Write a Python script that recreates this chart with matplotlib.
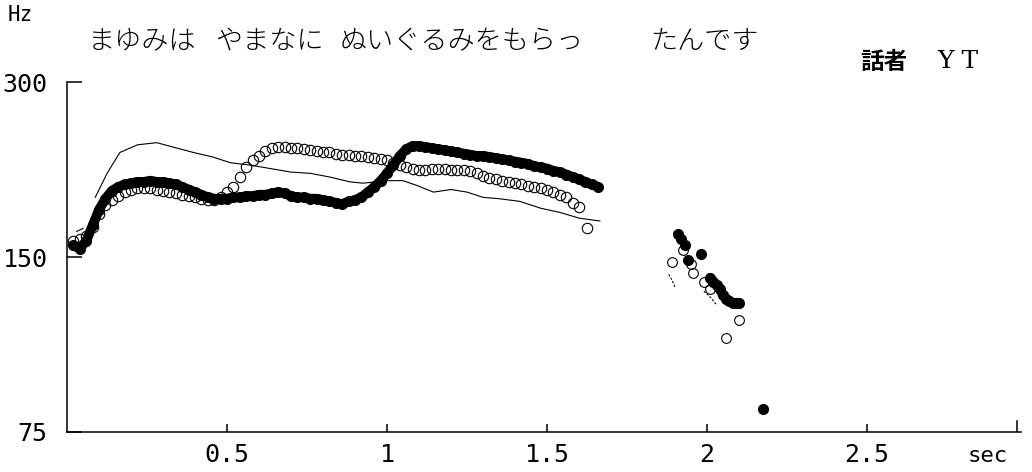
import matplotlib
matplotlib.use("Agg")
import matplotlib.pyplot as plt

# F0 contour, speaker YT (time in sec, F0 in Hz)
filled_t = [0.02, 0.04, 0.06, 0.08, 0.10, 0.12, 0.14, 0.16, 0.18, 0.20,
            0.22, 0.24, 0.26, 0.28, 0.30, 0.32, 0.34, 0.36, 0.38, 0.40,
            0.42, 0.44, 0.46, 0.48, 0.50, 0.52, 0.54, 0.56, 0.58, 0.60,
            0.62, 0.64, 0.66, 0.68, 0.70, 0.72, 0.74, 0.76, 0.78, 0.80,
            0.82, 0.84, 0.86, 0.88, 0.90, 0.92, 0.94, 0.96, 0.98, 1.00,
            1.02, 1.04, 1.06, 1.08, 1.10, 1.12, 1.14, 1.16, 1.18, 1.20,
            1.22, 1.24, 1.26, 1.28, 1.30, 1.32, 1.34, 1.36, 1.38, 1.40,
            1.42, 1.44, 1.46, 1.48, 1.50, 1.52, 1.54, 1.56, 1.58, 1.60,
            1.62, 1.64, 1.66]
filled_hz = [157, 155, 160, 170, 181, 189, 195, 198, 200, 201,
             202, 202, 203, 202, 202, 201, 200, 198, 196, 194,
             192, 190, 189, 189, 189, 190, 190, 191, 191, 192,
             192, 193, 194, 193, 191, 190, 190, 189, 189, 188,
             187, 186, 185, 187, 188, 190, 194, 198, 203, 209,
             216, 224, 230, 233, 233, 232, 231, 230, 229, 228,
             227, 226, 225, 224, 224, 223, 222, 221, 220, 219,
             218, 217, 215, 214, 213, 211, 210, 208, 206, 204,
             202, 200, 198]

open_t = [0.02, 0.04, 0.06, 0.08, 0.10, 0.12, 0.14, 0.16, 0.18, 0.20,
          0.22, 0.24, 0.26, 0.28, 0.30, 0.32, 0.34, 0.36, 0.38, 0.40,
          0.42, 0.44, 0.46, 0.48, 0.50, 0.52, 0.54, 0.56, 0.58, 0.60,
          0.62, 0.64, 0.66, 0.68, 0.70, 0.72, 0.74, 0.76, 0.78, 0.80,
          0.82, 0.84, 0.86, 0.88, 0.90, 0.92, 0.94, 0.96, 0.98, 1.00,
          1.02, 1.04, 1.06, 1.08, 1.10, 1.12, 1.14, 1.16, 1.18, 1.20,
          1.22, 1.24, 1.26, 1.28, 1.30, 1.32, 1.34, 1.36, 1.38, 1.40,
          1.42, 1.44, 1.46, 1.48, 1.50, 1.52, 1.54, 1.56, 1.58, 1.60,
          1.625]
open_hz = [160, 161, 163, 169, 178, 184, 188, 191, 194, 196,
           197, 197, 197, 196, 195, 194, 193, 192, 191, 190,
           189, 188, 188, 190, 194, 198, 206, 214, 220, 224,
           228, 231, 232, 232, 231, 231, 230, 229, 228, 227,
           227, 226, 225, 225, 224, 224, 223, 222, 221, 220,
           218, 216, 214, 213, 212, 212, 213, 213, 213, 212,
           212, 212, 211, 209, 207, 205, 204, 203, 202, 201,
           200, 199, 198, 197, 196, 194, 192, 190, 186, 183,
           168]

line_t = [0.088, 0.125, 0.165, 0.22, 0.28, 0.33, 0.395, 0.455, 0.51, 0.57,
          0.635, 0.70, 0.76, 0.82, 0.885, 0.925, 1.00, 1.05, 1.095, 1.145,
          1.20, 1.25, 1.30, 1.35, 1.415, 1.48, 1.54, 1.60, 1.665]
line_hz = [190, 209, 227, 234, 236, 232, 227, 223, 218, 216,
           213, 210, 209, 206, 202, 201, 203, 203, 199, 194,
           196, 194, 190, 189, 187, 182, 179, 175, 173]
line0_t = [0.03, 0.05]
line0_hz = [166, 168]

# second voiced stretch
filled2_t = [1.91, 1.92, 1.93, 1.94, 1.98, 2.01, 2.02, 2.03, 2.04, 2.05,
             2.06, 2.07, 2.08, 2.09, 2.10]
filled2_hz = [164, 161, 157, 148, 152, 138, 136, 134, 132, 129,
              127, 126, 125, 125, 125]
open2_t = [1.89, 1.925, 1.95, 1.955, 1.99, 2.01, 2.06, 2.10]
open2_hz = [147, 154, 146, 141, 136, 132, 109, 117]
line2a_t = [1.88, 1.89, 1.90]
line2a_hz = [140, 137, 133]
line2b_t = [1.99, 2.01, 2.03]
line2b_hz = [131, 128, 124]
dot_t = [2.175]
dot_hz = [82]

title_parts = ["まゆみは", "やまなに", "ぬいぐるみをもらっ", "たんです"]
title_x = [88, 215, 340, 650]
y_ticks = [75, 150, 300]
y_labels = ["75", "150", "300"]
x_ticks = [0.5, 1, 1.5, 2, 2.5]
x_labels = ["0.5", "1", "1.5", "2", "2.5"]

plt.rcParams["font.family"] = ["DejaVu Sans Mono"]

fig = plt.figure(figsize=(10.32, 4.72), dpi=100)
ax = fig.add_axes([0.065, 0.085, 0.924, 0.741])

ax.plot(line_t, line_hz, color="black", lw=0.8)
ax.plot(line0_t, line0_hz, color="black", lw=0.8)
ax.plot(line2a_t, line2a_hz, color="black", lw=0.8, ls=(0, (2, 1.5)))
ax.plot(line2b_t, line2b_hz, color="black", lw=0.8, ls=(0, (2, 1.5)))
# filled contour: dense dots merging into a thick band
ax.plot(filled_t, filled_hz, "o-", color="black", ms=8, mew=0, lw=7,
        solid_capstyle="round")
ax.plot(filled2_t[5:], filled2_hz[5:], "-", color="black", lw=7,
        solid_capstyle="round")
ax.plot(filled2_t, filled2_hz, "o", color="black", ms=8, mew=0)
ax.plot(dot_t, dot_hz, "o", color="black", ms=8, mew=0)
ax.plot(open_t, open_hz, "o", mfc="none", mec="black", ms=7.5, mew=0.8)
ax.plot(open2_t, open2_hz, "o", mfc="none", mec="black", ms=7, mew=0.8)

ax.set_yscale("log", base=2)
ax.set_ylim(75, 300)
ax.set_xlim(0, 2.98)
ax.set_yticks(y_ticks)
ax.set_yticklabels(y_labels)
ax.yaxis.set_minor_locator(matplotlib.ticker.NullLocator())
ax.set_xticks(x_ticks)
ax.set_xticklabels(x_labels)
ax.tick_params(axis="y", direction="in", length=11, width=1.1, pad=14, labelsize=18)
ax.tick_params(axis="x", direction="in", length=6, width=1.1, pad=8, labelsize=18)
ax.spines["top"].set_visible(False)
ax.spines["right"].set_visible(False)
ax.spines["left"].set_linewidth(1.1)
ax.spines["bottom"].set_linewidth(1.1)
# little end tick at the right of the time axis
ax.axvline(2.97, ymin=0, ymax=0.03, color="black", lw=1.1)

W, H = 1032, 472
fig.text(8 / W, 1 - 15 / H, "Hz", fontsize=15, va="center", ha="left")
fig.text(1008 / W, 1 - 456 / H, "sec", fontsize=16, va="center", ha="right")
for part, px in zip(title_parts, title_x):
    fig.text(px / W, 1 - 41 / H, part, fontsize=19.5, va="center", ha="left",
             family=["Noto Sans CJK JP", "DejaVu Sans"], fontweight="light")
fig.text(860 / W, 1 - 62 / H, "話者", fontsize=17, va="center", ha="left",
         family=["Noto Sans CJK JP"], fontweight="bold")
fig.text(937 / W, 1 - 62 / H, "Y T", fontsize=18, va="center", ha="left",
         family=["DejaVu Serif"])

fig.savefig("out.png", dpi=100)
